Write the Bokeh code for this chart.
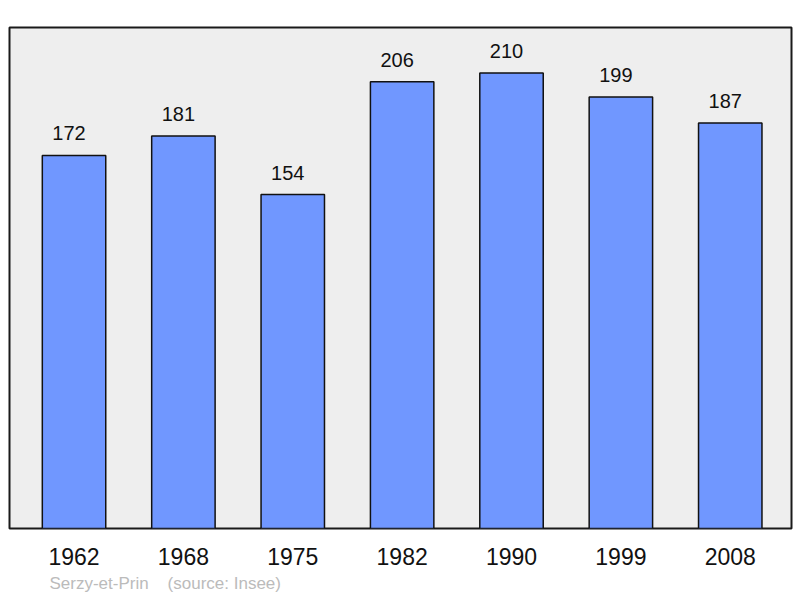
from bokeh.plotting import figure
from bokeh.models import ColumnDataSource, FixedTicker, Range1d, Title
from bokeh.core.properties import value
from bokeh.embed import file_html
from bokeh.resources import INLINE

years = ["1962", "1968", "1975", "1982", "1990", "1999", "2008"]
population = [172, 181, 154, 206, 210, 199, 187]
commune = "Serzy-et-Prin"
source_note = "(source: Insee)"

idx = list(range(len(years)))
src = ColumnDataSource(dict(x=idx, top=population, label=[str(v) for v in population]))

p = figure(width=800, height=598, output_backend="svg", toolbar_location=None,
           x_range=Range1d(-0.59, 6.56), y_range=Range1d(0, 231),
           min_border_left=9, min_border_right=9, min_border_top=27, min_border_bottom=70)
p.background_fill_color = "#eeeeee"
p.border_fill_color = "white"
p.outline_line_color = "#1a1a1a"
p.outline_line_width = 2
p.xgrid.visible = False
p.ygrid.visible = False
p.yaxis.visible = False

p.vbar(x="x", top="top", bottom=0, width=0.58, source=src,
       fill_color="#7097ff", line_color="#111111", line_width=1.5)
p.text(x="x", y="top", text="label", source=src, x_offset=-5, y_offset=-15,
       text_align="center", text_baseline="bottom",
       text_font=value("Liberation Sans"), text_font_size="20px", text_color="#111111")

ax = p.xaxis[0]
ax.ticker = FixedTicker(ticks=idx)
ax.major_label_overrides = {i: y for i, y in zip(idx, years)}
ax.axis_line_color = None
ax.major_tick_line_color = None
ax.minor_tick_line_color = None
ax.major_tick_out = 0
ax.major_label_standoff = 19
ax.major_label_text_font = "Liberation Sans"
ax.major_label_text_font_size = "23px"
ax.major_label_text_color = "#111111"

footer = Title(text=commune + "\u00a0\u00a0\u00a0\u00a0" + source_note, align="left", offset=40,
               text_font="Liberation Sans", text_font_size="17px",
               text_font_style="normal", text_color="#bbbbbb", standoff=8)
p.add_layout(footer, "below")

open("out.html", "w").write(file_html(p, INLINE))
